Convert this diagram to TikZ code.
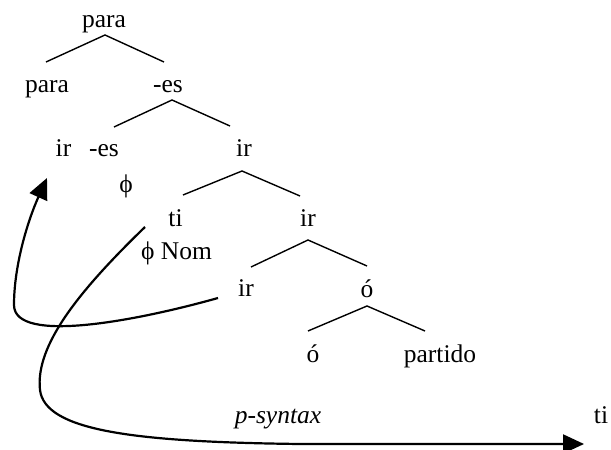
\documentclass[tikz,border=0pt]{standalone}
\usepackage{fontspec}
\setmainfont{Liberation Serif}
\usetikzlibrary{arrows.meta}
\begin{document}
\begin{tikzpicture}[x=1pt,y=1pt,
  lbl/.style={anchor=base,inner sep=0pt,font=\fontsize{25.5}{28}\selectfont},
  branch/.style={line width=1.4pt},
  move/.style={line width=2.2pt,-{Triangle[length=21pt,width=19pt]}}]
\useasboundingbox (0,0) rectangle (611,450);
% labels
\node[lbl] (n1) at (104,422) {para};
\node[lbl] (n2) at (47,357) {para};
\node[lbl] (n3) at (168,357) {-es};
\node[lbl] (n4) at (63.5,293) {ir};
\node[lbl] (n5) at (104,293) {-es};
\node[lbl] (n6) at (244,293) {ir};
\node[lbl] (n7) at (126,257) {ϕ};
\node[lbl] (n8) at (175.5,223) {ti};
\node[lbl] (n9) at (308,223) {ir};
\node[lbl] (n10) at (176.5,190) {ϕ Nom};
\node[lbl] (n11) at (246,153) {ir};
\node[lbl] (n12) at (367,152) {ó};
\node[lbl] (n13) at (313,87) {ó};
\node[lbl] (n14) at (440,87) {partido};
\node[lbl] (n15) at (278,26) {\itshape p-syntax};
\node[lbl] (n16) at (601,26) {ti};
% branch end points
\coordinate (a1) at (105,415);
\coordinate (a1l) at (46,388);
\coordinate (a1r) at (164,388);
\coordinate (a2) at (172,350);
\coordinate (a2l) at (114,323);
\coordinate (a2r) at (230,324);
\coordinate (a3) at (242,279);
\coordinate (a3l) at (183,255);
\coordinate (a3r) at (300,254);
\coordinate (a4) at (308,210);
\coordinate (a4l) at (251,183);
\coordinate (a4r) at (367,184);
\coordinate (a5) at (367,144);
\coordinate (a5l) at (308,119);
\coordinate (a5r) at (425,119);
\draw[branch] (a1l) -- (a1) -- (a1r);
\draw[branch] (a2l) -- (a2) -- (a2r);
\draw[branch] (a3l) -- (a3) -- (a3r);
\draw[branch] (a4l) -- (a4) -- (a4r);
\draw[branch] (a5l) -- (a5) -- (a5r);
% movement arrows
\coordinate (s1) at (218,152);
\coordinate (t1) at (47,272);
\coordinate (s2) at (145,223);
\coordinate (t2) at (584,6);
\draw[move] (s1) .. controls (140,130) and (14,105) .. (14,145)
  .. controls (14,185) and (28,230) .. (t1);
\draw[move] (s2) .. controls (80,160) and (35,105) .. (40,60)
  .. controls (45,20) and (130,8) .. (300,6) -- (t2);
\end{tikzpicture}
\end{document}
